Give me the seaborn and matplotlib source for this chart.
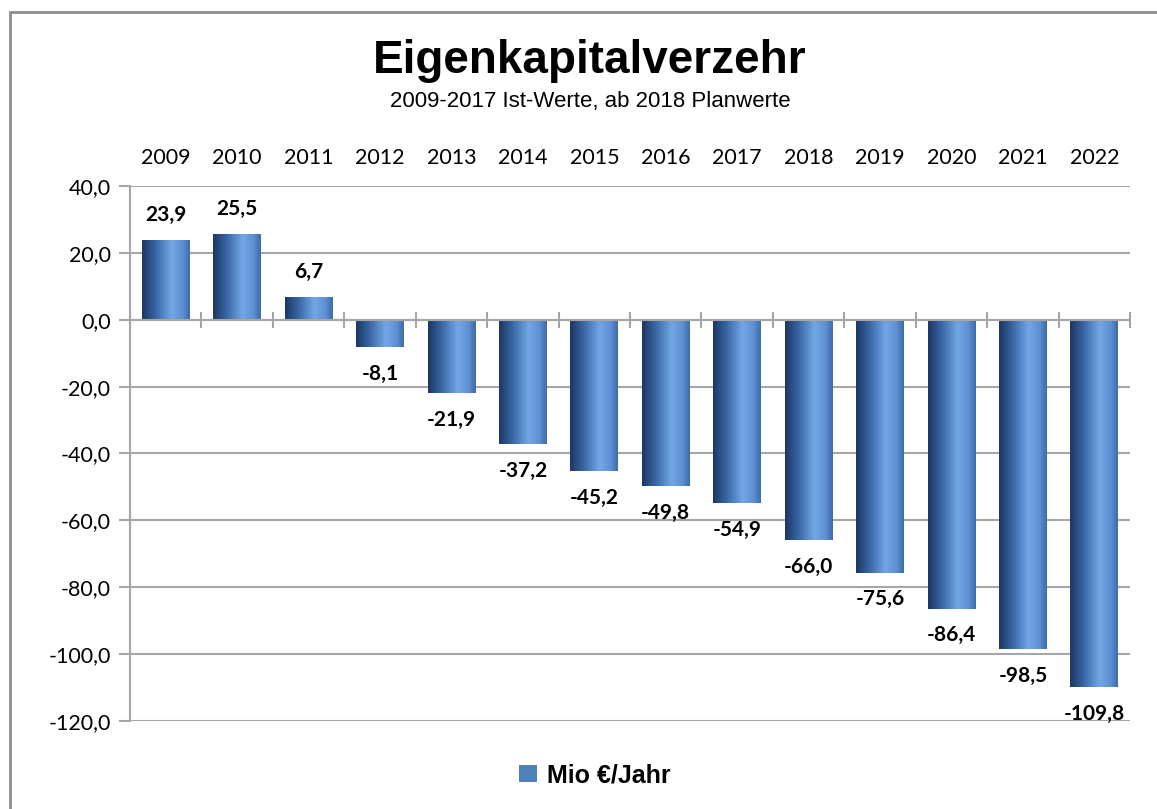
import numpy as np
import pandas as pd
import matplotlib
matplotlib.use("Agg")
from matplotlib import pyplot as plt
from matplotlib.colors import LinearSegmentedColormap
from matplotlib.patches import Rectangle, Patch
from matplotlib.ticker import FixedLocator, FuncFormatter
import seaborn as sns

# Daten
years = ["2009", "2010", "2011", "2012", "2013", "2014", "2015",
         "2016", "2017", "2018", "2019", "2020", "2021", "2022"]
values = [23.9, 25.5, 6.7, -8.1, -21.9, -37.2, -45.2,
          -49.8, -54.9, -66.0, -75.6, -86.4, -98.5, -109.8]
y_ticks = [40, 20, 0, -20, -40, -60, -80, -100, -120]
series_name = "Mio €/Jahr"

df = pd.DataFrame({"Jahr": years, "Wert": values})

sns.set_theme(style="white")
plt.rcParams["font.family"] = ["Lato", "DejaVu Sans"]
plt.rcParams["text.color"] = "black"

fig = plt.figure(figsize=(11.57, 8.09), dpi=100)
ax = fig.add_axes([0.1124, 0.1088, 0.8643, 0.6613])

# Rahmen
fig.patches.append(Rectangle((10 / 1157, -0.01), 1.1, 1 - 12 / 809 + 0.01,
                             transform=fig.transFigure, fill=False,
                             edgecolor="#8c8c8c", linewidth=2.0, zorder=0))

sns.barplot(data=df, x="Jahr", y="Wert", ax=ax, width=0.67,
            color="#4f81bd", edgecolor="none", zorder=3)

# Farbverlauf in den Balken
cmap = LinearSegmentedColormap.from_list(
    "bar", [(0.0, "#1d3761"), (0.25, "#34609e"), (0.62, "#72a6e6"),
            (0.85, "#5d8fd2"), (1.0, "#3e6aa8")])
grad = np.linspace(0, 1, 256).reshape(1, -1)
for p in ax.patches:
    x0, y0 = p.get_x(), p.get_y()
    w, h = p.get_width(), p.get_height()
    p.set_facecolor("none")
    im = ax.imshow(grad, cmap=cmap, aspect="auto",
                   extent=[x0, x0 + w, min(y0, y0 + h), max(y0, y0 + h)],
                   zorder=3)
    im.set_clip_path(p)

ax.set_xlim(-0.5, len(years) - 0.5)
ax.set_ylim(-120, 40)

# Datenbeschriftungen
for i, v in enumerate(values):
    label = f"{v:.1f}".replace(".", ",")
    if v >= 0:
        ax.annotate(label, (i, v), xytext=(0, 11), textcoords="offset points",
                    ha="center", va="bottom", fontsize=15, fontweight="bold",
                    color="black")
    else:
        ax.annotate(label, (i, v), xytext=(0, -12), textcoords="offset points",
                    ha="center", va="top", fontsize=15, fontweight="bold",
                    color="black")

# Achsen
ax.yaxis.set_major_locator(FixedLocator(y_ticks))
ax.yaxis.set_major_formatter(FuncFormatter(lambda v, _: f"{v:.1f}".replace(".", ",")))
ax.grid(axis="y", color="#a6a6a6", linewidth=1.5, zorder=0)
ax.set_axisbelow(True)
for s in ["top", "right"]:
    ax.spines[s].set_visible(False)
ax.spines["left"].set_color("#a6a6a6")
ax.spines["left"].set_linewidth(1.5)
ax.spines["bottom"].set_position(("data", 0))
ax.spines["bottom"].set_color("#a6a6a6")
ax.spines["bottom"].set_linewidth(1.5)
ax.spines["bottom"].set_zorder(4)

ax.tick_params(axis="y", direction="out", length=8, width=1.5, color="#a6a6a6",
               labelcolor="black", labelsize=15.5, pad=6, left=True)
ax.xaxis.set_minor_locator(FixedLocator(np.arange(-0.5, len(years), 1.0)))
ax.tick_params(axis="x", which="major", length=0, labeltop=True,
               labelbottom=False, labelsize=15.5, labelcolor="black", pad=13)
ax.tick_params(axis="x", which="minor", direction="inout", length=12,
               width=1.5, color="#a6a6a6", bottom=True, top=False)
ax.set_xlabel("")
ax.set_ylabel("")

# Titel
fig.text(0.51, 0.925, "Eigenkapitalverzehr", ha="center", va="center",
         fontsize=33, fontweight="bold", color="black",
         family=["Liberation Sans", "DejaVu Sans"])
fig.text(0.51, 0.875, "2009-2017 Ist-Werte, ab 2018 Planwerte", ha="center",
         va="center", fontsize=16, color="black",
         family=["Liberation Sans", "DejaVu Sans"])

# Legende
handle = Patch(facecolor="#4f81bd", edgecolor="none", label=series_name)
fig.legend(handles=[handle], loc="center", bbox_to_anchor=(0.514, 0.042),
           frameon=False, handlelength=0.7, handleheight=0.7, handletextpad=0.4,
           labelcolor="black",
           prop={"family": ["Liberation Sans", "DejaVu Sans"], "weight": "bold",
                 "size": 18})

fig.savefig("out.png", dpi=100)
